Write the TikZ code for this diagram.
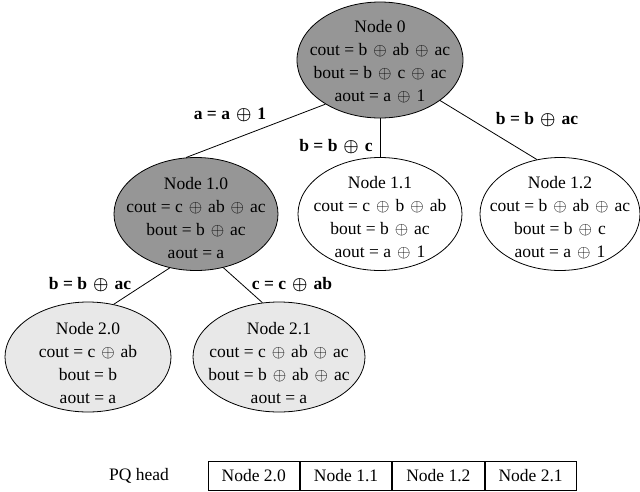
\documentclass[tikz,border=0pt]{standalone}
\usepackage{fontspec}
\setmainfont{Liberation Serif}
\usetikzlibrary{shapes.geometric}
\definecolor{darknode}{RGB}{150,150,150}
\definecolor{lightnode}{RGB}{232,232,232}
% exclusive-or sign with a little extra room on both sides
\newcommand{\xo}{\hspace{1.6pt}$\oplus$\hspace{1.6pt}}
\tikzset{
  txt/.style={font=\fontsize{17.5}{23}\selectfont, align=center, inner sep=0pt},
  state/.style={ellipse, draw=black, line width=0.8pt, inner sep=0pt},
  edgelbl/.style={font=\fontsize{17.5}{22}\selectfont\bfseries\boldmath, inner sep=0pt},
  link/.style={line width=0.8pt},
  qbox/.style={txt, draw=black, line width=0.8pt, minimum width=91.5pt,
    minimum height=29pt}
}
\begin{document}
\begin{tikzpicture}[x=1pt, y=-1pt]
\useasboundingbox (0,0) rectangle (640,491);

% search tree of states: outlines
\node[state, fill=darknode, minimum width=166pt, minimum height=116pt] (n0) at (380,60) {};
\node[state, fill=darknode, minimum width=164pt, minimum height=113pt] (n10) at (196,214) {};
\node[state, fill=white, minimum width=164pt, minimum height=113pt] (n11) at (380,214) {};
\node[state, fill=white, minimum width=160pt, minimum height=113pt] (n12) at (560,214) {};
\node[state, fill=lightnode, minimum width=166pt, minimum height=110pt] (n20) at (88,357) {};
\node[state, fill=lightnode, minimum width=172pt, minimum height=110pt] (n21) at (279,357) {};

% search tree of states: contents
\node[txt] (t0) at ([yshift=-1.5pt]n0.center)
  {Node 0\\cout = b \xo{} ab \xo{} ac\\bout = b \xo{} c \xo{} ac\\aout = a \xo{} 1};
\node[txt] (t10) at ([yshift=-4pt]n10.center)
  {Node 1.0\\cout = c \xo{} ab \xo{} ac\\bout = b \xo{} ac\\aout = a};
\node[txt] (t11) at ([yshift=-4pt]n11.center)
  {Node 1.1\\cout = c \xo{} b \xo{} ab\\bout = b \xo{} ac\\aout = a \xo{} 1};
\node[txt] (t12) at ([yshift=-4pt]n12.center)
  {Node 1.2\\cout = b \xo{} ab \xo{} ac\\bout = b \xo{} c\\aout = a \xo{} 1};
\node[txt] (t20) at ([yshift=-6pt]n20.center)
  {Node 2.0\\cout = c \xo{} ab\\bout = b\\aout = a};
\node[txt] (t21) at ([yshift=-6pt]n21.center)
  {Node 2.1\\cout = c \xo{} ab \xo{} ac\\bout = b \xo{} ab \xo{} ac\\aout = a};

% branches
\draw[link] (n0.219) -- (n10.100);
\draw[link] (n0.south) -- (n11.north);
\draw[link] (n0.326) -- (n12.113);
\draw[link] (n10.244) -- (n20.64);
\draw[link] (n10.297) -- (n21.107);

% branch labels
\node[edgelbl] (l1) at (230,115) {a = a \xo{} 1};
\node[edgelbl] (l2) at (336,147) {b = b \xo{} c};
\node[edgelbl] (l3) at (537,120) {b = b \xo{} ac};
\node[edgelbl] (l4) at (90,285) {b = b \xo{} ac};
\node[edgelbl] (l5) at (292,285) {c = c \xo{} ab};

% priority queue
\node[txt] (pq) at (139,476) {PQ head};
\node[qbox] (q1) at (253.75,475.5) {Node 2.0};
\node[qbox, anchor=west] (q2) at (q1.east) {Node 1.1};
\node[qbox, anchor=west] (q3) at (q2.east) {Node 1.2};
\node[qbox, anchor=west] (q4) at (q3.east) {Node 2.1};
\end{tikzpicture}
\end{document}
